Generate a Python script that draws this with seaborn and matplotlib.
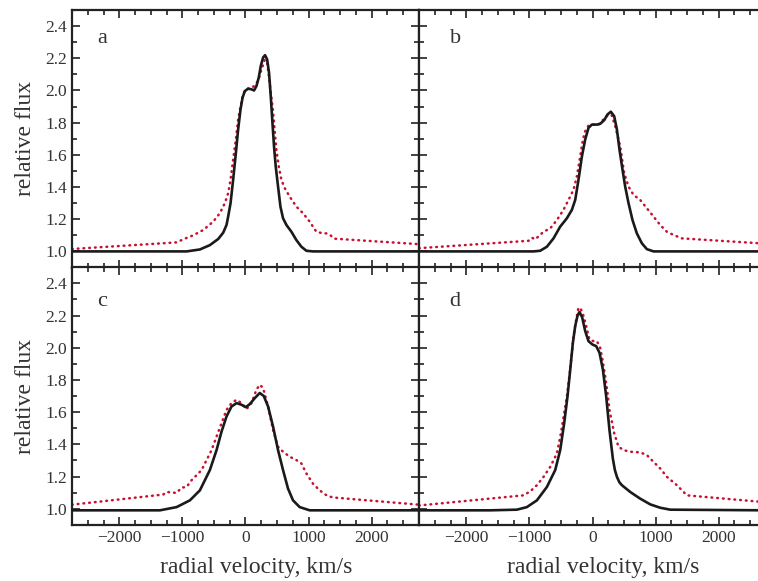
import numpy as np
import pandas as pd
import matplotlib
matplotlib.use("Agg")
import matplotlib.pyplot as plt
from matplotlib.ticker import MultipleLocator
import seaborn as sns

# panel a
a_model_v = [-2750, -933, -723, -565, -433, -354, -301, -275, -237, -196, -153, -117, -79, -47, -11,
             41, 95, 136, 174, 210, 242, 279, 310, 342, 373, 400, 427, 452, 479, 516, 554, 595,
             649, 728, 807, 886, 965, 1070, 2750]
a_model_f = [1.0, 1.0, 1.012, 1.039, 1.077, 1.116, 1.164, 1.216, 1.30, 1.445, 1.61, 1.757, 1.882, 1.955, 1.996,
             2.011, 2.007, 2.0, 2.028, 2.08, 2.152, 2.205, 2.219, 2.194, 2.111, 1.965, 1.80, 1.653, 1.528, 1.403, 1.278, 1.206,
             1.164, 1.122, 1.07, 1.029, 1.004, 1.0, 1.0]
a_obs_v = [-2750, -1092, -987, -829, -670, -512, -407, -327, -275, -237, -196, -153, -117, -79, -47, -11,
           41, 95, 136, 200, 253, 305, 342, 395, 437, 463, 490, 527, 569, 622, 701, 807, 912, 1017,
           1123, 1228, 1281, 1334, 1413, 2750]
a_obs_f = [1.015, 1.056, 1.075, 1.10, 1.133, 1.185, 1.237, 1.30, 1.362, 1.445, 1.57, 1.695, 1.82, 1.90, 1.96, 2.0,
           2.012, 2.015, 2.028, 2.06, 2.13, 2.19, 2.18, 2.007, 1.87, 1.75, 1.63, 1.528, 1.445, 1.393, 1.34, 1.278, 1.237, 1.185,
           1.122, 1.112, 1.112, 1.104, 1.079, 1.045]

# panel b
b_model_v = [-2750, -935, -829, -723, -618, -512, -406, -327, -274, -222, -168, -116, -63, -10, 70, 122,
             185, 238, 291, 344, 387, 428, 476, 518, 571, 634, 703, 783, 862, 968, 2750]
b_model_f = [1.0, 1.0, 1.004, 1.029, 1.081, 1.154, 1.206, 1.258, 1.32, 1.445, 1.59, 1.695, 1.768, 1.788, 1.788, 1.793,
             1.815, 1.851, 1.868, 1.84, 1.757, 1.632, 1.507, 1.403, 1.30, 1.195, 1.112, 1.05, 1.014, 1.0, 1.0]
b_obs_v = [-2750, -1014, -961, -908, -776, -670, -564, -460, -380, -301, -248, -195, -152, -116, -63, 16, 95,
           174, 254, 307, 360, 439, 502, 571, 650, 756, 862, 968, 1073, 1179, 1285, 1417, 2750]
b_obs_f = [1.02, 1.066, 1.085, 1.075, 1.122, 1.143, 1.195, 1.258, 1.32, 1.383, 1.466, 1.59, 1.695, 1.747, 1.782, 1.788, 1.788,
           1.82, 1.851, 1.845, 1.778, 1.653, 1.487, 1.403, 1.351, 1.32, 1.268, 1.216, 1.164, 1.122, 1.102, 1.081, 1.048]

# panel c
c_model_v = [-2750, -1356, -1092, -881, -723, -565, -459, -380, -301, -222, -142, -63, 5, 68, 147, 226,
             290, 358, 437, 516, 595, 674, 753, 859, 1017, 2750]
c_model_f = [0.99, 0.99, 1.01, 1.052, 1.114, 1.24, 1.364, 1.479, 1.573, 1.635, 1.656, 1.646, 1.631, 1.65, 1.687, 1.719,
             1.70, 1.635, 1.51, 1.364, 1.24, 1.125, 1.052, 1.01, 0.99, 0.99]
c_obs_v = [-2750, -1304, -1250, -1092, -1013, -934, -855, -776, -696, -617, -538, -459, -380, -301, -222, -142,
           -63, 16, 95, 174, 226, 279, 358, 437, 516, 595, 701, 807, 886, 965, 1069, 1175, 1307, 1413, 2750]
c_obs_f = [1.025, 1.088, 1.104, 1.098, 1.131, 1.135, 1.177, 1.208, 1.24, 1.302, 1.364, 1.448, 1.531, 1.614, 1.656, 1.677,
           1.656, 1.619, 1.656, 1.74, 1.77, 1.75, 1.635, 1.489, 1.385, 1.354, 1.323, 1.302, 1.281, 1.219, 1.156, 1.114, 1.077, 1.069, 1.025]

# panel d
d_model_v = [-2750, -1621, -1198, -1040, -881, -723, -591, -512, -449, -396, -353, -311, -274, -238, -206, -163,
             -116, -63, 0, 59, 111, 165, 217, 269, 323, 355, 387, 425, 466, 598, 756, 915, 1073, 1232, 2750]
d_model_f = [0.99, 0.99, 0.994, 1.01, 1.052, 1.135, 1.24, 1.364, 1.531, 1.698, 1.864, 2.031, 2.135, 2.198, 2.223, 2.188,
             2.104, 2.041, 2.02, 2.01, 1.969, 1.864, 1.698, 1.489, 1.31, 1.24, 1.198, 1.165, 1.146, 1.104, 1.0625, 1.027, 1.006, 0.994, 0.99]
d_obs_v = [-2750, -1094, -987, -881, -776, -670, -564, -501, -449, -406, -353, -301, -258, -222, -184, -142, -100,
           -48, 16, 70, 122, 158, 201, 238, 269, 307, 344, 412, 492, 598, 756, 862, 967, 1073, 1179, 1338, 1496, 2750]
d_obs_f = [1.02, 1.083, 1.108, 1.146, 1.198, 1.26, 1.344, 1.469, 1.594, 1.698, 1.87, 2.07, 2.177, 2.25, 2.24, 2.198, 2.135,
           2.052, 2.041, 2.041, 2.0, 1.927, 1.823, 1.719, 1.614, 1.541, 1.469, 1.385, 1.364, 1.354, 1.35, 1.333, 1.291, 1.25, 1.198, 1.146, 1.083, 1.04]

panels = [
    ("a", a_model_v, a_model_f, a_obs_v, a_obs_f),
    ("b", b_model_v, b_model_f, b_obs_v, b_obs_f),
    ("c", c_model_v, c_model_f, c_obs_v, c_obs_f),
    ("d", d_model_v, d_model_f, d_obs_v, d_obs_f),
]

sns.set_style("ticks")
plt.rcParams["font.family"] = ["Liberation Serif", "DejaVu Serif"]
plt.rcParams["axes.unicode_minus"] = True

red = "#c8102e"
ink = "#222222"

fig = plt.figure(figsize=(7.58, 5.81), dpi=100)
W, H = 758, 581
boxes = [(72, 10), (419, 10), (72, 267.3), (419, 267.3)]
axw, axh = 347, 257.5

for i, (letter, mv, mf, ov, of) in enumerate(panels):
    x0, y0 = boxes[i]
    ax = fig.add_axes([x0 / W, 1 - (y0 + axh) / H, axw / W, axh / H])
    obs = pd.DataFrame({"v": ov, "f": of})
    mod = pd.DataFrame({"v": mv, "f": mf})
    sns.lineplot(data=obs, x="v", y="f", ax=ax, color=red, lw=1.8,
                 linestyle=(0, (0.3, 2.0)), dash_capstyle="round", zorder=2)
    sns.lineplot(data=mod, x="v", y="f", ax=ax, color="#1a1a1a", lw=1.9, zorder=3)

    ax.set_xlim(-2750, 2750)
    ax.set_ylim(0.9, 2.5)
    ax.xaxis.set_major_locator(MultipleLocator(1000))
    ax.xaxis.set_minor_locator(MultipleLocator(250))
    ax.yaxis.set_major_locator(MultipleLocator(0.2))
    ax.yaxis.set_minor_locator(MultipleLocator(0.1))
    ax.yaxis.set_major_formatter(plt.FormatStrFormatter("%.1f"))
    ax.tick_params(which="both", direction="in", top=True, right=True,
                   color=ink, labelcolor="#333333", labelsize=12.5, width=1.2)
    ax.tick_params(which="major", length=6)
    ax.tick_params(which="minor", length=3.5)
    for s in ax.spines.values():
        s.set_linewidth(1.6)
        s.set_color(ink)

    if i < 2:
        ax.set_xticklabels([])
        ax.set_xlabel("")
    else:
        ax.set_xlabel("radial velocity, km/s", fontsize=17, color="#333333")
        ax.xaxis.set_label_coords(0.53, -0.125)
    if i % 2 == 1:
        ax.set_yticklabels([])
        ax.set_ylabel("")
    else:
        ax.set_ylabel("relative flux", fontsize=17, color="#333333")
        ax.yaxis.set_label_coords(-0.105, 0.5)

    lx = 0.087 if i % 2 == 0 else 0.104
    ly = 0.891 if i < 2 else 0.867
    ax.text(lx, ly, letter, transform=ax.transAxes, ha="center", va="center",
            fontsize=16, color="#333333")

fig.savefig("out.png", dpi=100)
